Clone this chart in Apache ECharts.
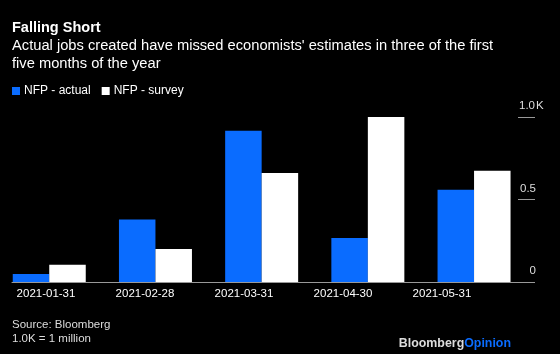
<!DOCTYPE html>
<html>
<head>
    <meta charset="UTF-8">
    <title>Falling Short</title>
    <script src="https://cdn.jsdelivr.net/npm/echarts@6/dist/echarts.min.js"></script>
    <style>
        html, body { margin: 0; padding: 0; background: #000; }
        #chart { width: 560px; height: 354px; }
    </style>
</head>
<body>
<div id="chart"></div>
<script>
    // data, in thousands of jobs / 1000
    var months = ['2021-01-31', '2021-02-28', '2021-03-31', '2021-04-30', '2021-05-31'];
    var actual = [0.049, 0.379, 0.916, 0.266, 0.559];
    var survey = [0.105, 0.200, 0.660, 1.000, 0.675];
    var yTicks = [0, 0.5, 1];

    var font = '"Liberation Sans", Arial, sans-serif';
    var blue = '#0a6cff';

    var chart = echarts.init(document.getElementById('chart'));
    var option = {
        backgroundColor: '#000',
        animation: false,
        textStyle: { fontFamily: font },
        title: [
            { text: 'Falling Short', left: 12, top: 20, padding: 0,
              textStyle: { color: '#fff', fontSize: 14.5, fontWeight: 'bold', fontFamily: font } },
            { text: "Actual jobs created have missed economists' estimates in three of the first\nfive months of the year",
              left: 12, top: 37, padding: 0,
              textStyle: { color: '#fff', fontSize: 14.7, fontWeight: 'normal', lineHeight: 18, fontFamily: font } },
            { text: 'Source: Bloomberg\n1.0K = 1 million', left: 12, top: 318, padding: 0,
              textStyle: { color: '#ddd', fontSize: 11.5, fontWeight: 'normal', lineHeight: 14, fontFamily: font } },
            { text: 'Bloomberg{o|Opinion}', right: 49, top: 338, padding: 0,
              textStyle: { color: '#ddd', fontSize: 12.4, fontWeight: 'bold', fontFamily: font,
                rich: { o: { color: blue, fontSize: 12.4, fontWeight: 'bold', fontFamily: font } } } }
        ],
        legend: {
            left: 12, top: 85, padding: 0,
            icon: 'rect',
            itemWidth: 8, itemHeight: 8, itemGap: 11,
            textStyle: { color: '#fff', fontSize: 12, fontFamily: font, padding: [0, 0, 0, -1] },
            data: ['NFP - actual', 'NFP - survey']
        },
        grid: [
            { left: 0, right: 29, top: 117, bottom: 72, containLabel: false },
            // date labels are spaced a bit tighter than the bars
            { left: 46, right: 118, top: 117, bottom: 72, containLabel: false },
            // baseline runs from the left margin to the right tick column
            { left: 12, right: 26, top: 117, bottom: 72, containLabel: false }
        ],
        xAxis: [
            {
                type: 'category', gridIndex: 0, data: months,
                axisLine: { show: false }, axisTick: { show: false }, axisLabel: { show: false }
            },
            {
                type: 'category', gridIndex: 1, data: months, boundaryGap: false,
                axisLine: { show: false }, axisTick: { show: false },
                axisLabel: { color: '#fff', fontSize: 11.5, margin: 6, fontFamily: font, interval: 0 }
            },
            {
                type: 'category', gridIndex: 2, data: months,
                axisLine: { lineStyle: { color: '#999', width: 1 } },
                axisTick: { show: false }, axisLabel: { show: false }
            }
        ],
        yAxis: [
            {
                type: 'value',
                gridIndex: 0,
                position: 'right',
                offset: 4,
                min: 0, max: 1, interval: 0.5,
                axisLine: { show: false },
                axisTick: { show: true, inside: true, length: 17, lineStyle: { color: '#999' } },
                splitLine: { show: false },
                axisLabel: {
                    inside: true, margin: 17, align: 'left', color: '#ddd', fontSize: 11.5, fontFamily: font,
                    verticalAlign: 'bottom', padding: [0, 0, 5, 0],
                    formatter: function (v) {
                        if (yTicks.indexOf(v) < 0) return '';
                        return v === 1 ? '{n|1.0}K' : '{n|' + v + '}';
                    },
                    rich: { n: { width: 18, align: 'right', color: '#ddd', fontSize: 11.5, fontFamily: font } }
                }
            },
            { type: 'value', gridIndex: 1, show: false },
            { type: 'value', gridIndex: 2, show: false }
        ],
        series: [
            { name: 'NFP - actual', type: 'bar', data: actual, barWidth: 36.5, barGap: '0%',
              itemStyle: { color: blue } },
            { name: 'NFP - survey', type: 'bar', data: survey, barWidth: 36.5,
              itemStyle: { color: '#fff' } },
            // empty spacer so each pair sits a little left of its band centre, as in the original
            { name: 'spacer', type: 'bar', data: months.map(function () { return '-'; }), barWidth: 7.7,
              itemStyle: { color: 'transparent' }, silent: true }
        ]
    };
    chart.setOption(option);
</script>
</body>
</html>
